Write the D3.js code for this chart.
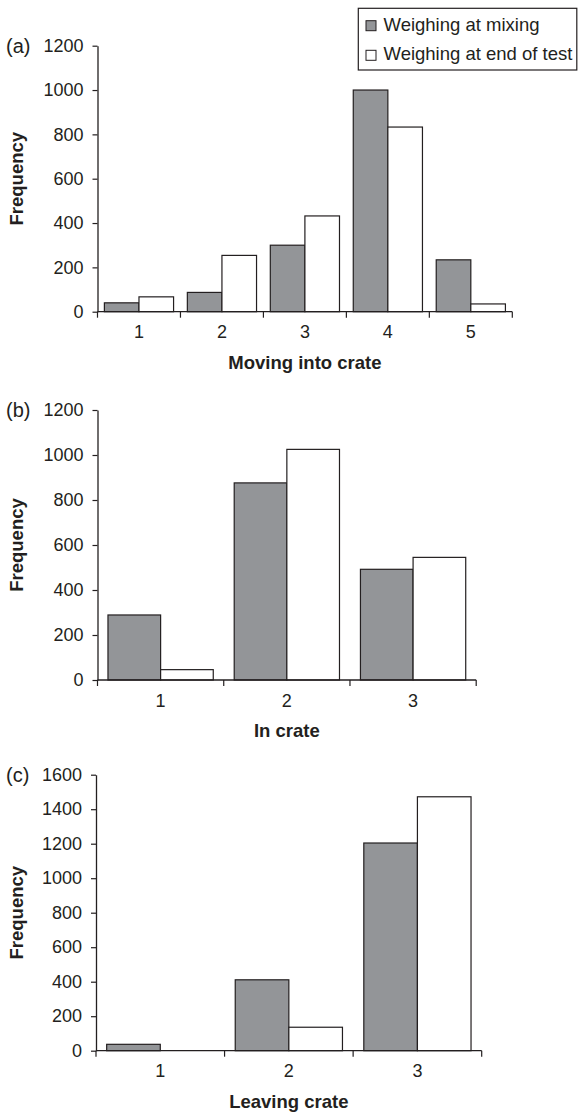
<!DOCTYPE html>
<html>
<head>
<meta charset="utf-8">
<script src="https://cdn.jsdelivr.net/npm/d3@7"></script>
<style>
  body { margin: 0; background: #fff; }
  svg text { font-family: "Liberation Sans", Arial, sans-serif; fill: #231f20; }
</style>
</head>
<body>
<div id="main"></div>
<script>
// series names
const seriesNames = ["Weighing at mixing", "Weighing at end of test"];
const seriesColors = ["#939598", "#ffffff"];

// panel (a) Moving into crate
const catsA = ["1", "2", "3", "4", "5"];
const mixingA = [40, 87, 300, 1000, 234];
const endA = [67, 254, 432, 833, 35];
const ticksA = [0, 200, 400, 600, 800, 1000, 1200];

// panel (b) In crate
const catsB = ["1", "2", "3"];
const mixingB = [289, 876, 492];
const endB = [46, 1025, 545];
const ticksB = [0, 200, 400, 600, 800, 1000, 1200];

// panel (c) Leaving crate
const catsC = ["1", "2", "3"];
const mixingC = [37, 411, 1204];
const endC = [0, 136, 1472];
const ticksC = [0, 200, 400, 600, 800, 1000, 1200, 1400, 1600];

const width = 578, height = 1112;

const svg = d3.select("#main")
  .append("svg")
    .attr("width", width)
    .attr("height", height);

function drawPanel(cfg) {
  const g = svg.append("g");

  const x0 = d3.scaleBand()
      .domain(cfg.cats)
      .range([cfg.left, cfg.right])
      .padding(0);
  const pad = x0.bandwidth() * 0.083;
  const x1 = d3.scaleBand()
      .domain([0, 1])
      .range([pad, x0.bandwidth() - pad])
      .padding(0);
  const y = d3.scaleLinear()
      .domain([0, d3.max(cfg.ticks)])
      .range([cfg.bottom, cfg.top]);

  const rows = cfg.cats.map((c, i) => ({cat: c, vals: [cfg.mixing[i], cfg.end[i]]}));

  // bars
  const grp = g.selectAll("g.cat")
    .data(rows)
    .enter().append("g")
      .attr("class", "cat")
      .attr("transform", d => `translate(${x0(d.cat)},0)`);
  grp.selectAll("rect")
    .data(d => d.vals.map((v, k) => ({k: k, v: v})))
    .enter().append("rect")
      .filter(d => d.v > 0)
      .attr("x", d => x1(d.k))
      .attr("y", d => y(d.v))
      .attr("width", x1.bandwidth())
      .attr("height", d => y(0) - y(d.v))
      .attr("fill", d => seriesColors[d.k])
      .attr("stroke", "#231f20")
      .attr("stroke-width", 1.2);

  // y axis
  const yAxis = g.append("g")
    .attr("transform", `translate(${cfg.left},0)`)
    .call(d3.axisLeft(y).tickValues(cfg.ticks).tickFormat(d3.format("d"))
      .tickSize(5).tickPadding(9).tickSizeOuter(0));
  // x axis: ticks at band edges
  const edges = cfg.cats.map(c => x0(c)).concat([cfg.right]);
  const xAxisG = g.append("g")
    .attr("transform", `translate(0,${cfg.bottom})`);
  xAxisG.append("line")
    .attr("x1", cfg.left).attr("x2", cfg.right)
    .attr("stroke", "#231f20").attr("stroke-width", 1.3);
  xAxisG.selectAll("line.tk")
    .data(edges)
    .enter().append("line")
      .attr("class", "tk")
      .attr("x1", d => d).attr("x2", d => d)
      .attr("y1", 0).attr("y2", 6)
      .attr("stroke", "#231f20").attr("stroke-width", 1.2);
  xAxisG.selectAll("text")
    .data(cfg.cats)
    .enter().append("text")
      .attr("x", d => x0(d) + x0.bandwidth() / 2)
      .attr("y", 26.5)
      .attr("text-anchor", "middle")
      .style("font-size", "18px")
      .text(d => d);

  yAxis.select(".domain").attr("stroke", "#231f20").attr("stroke-width", 1.3);
  yAxis.selectAll(".tick line").attr("stroke", "#231f20").attr("stroke-width", 1.2);
  yAxis.selectAll(".tick text")
    .style("font-size", "18px")
    .attr("fill", "#231f20");

  // x title
  g.append("text")
    .attr("x", (cfg.left + cfg.right) / 2)
    .attr("y", cfg.bottom + 57)
    .attr("text-anchor", "middle")
    .style("font-size", "18.5px")
    .style("font-weight", "bold")
    .text(cfg.title);

  // y title
  g.append("text")
    .attr("transform", `translate(23,${(cfg.top + cfg.bottom) / 2}) rotate(-90)`)
    .attr("text-anchor", "middle")
    .style("font-size", "18.5px")
    .style("font-weight", "bold")
    .text("Frequency");

  // panel letter
  g.append("text")
    .attr("x", 6)
    .attr("y", cfg.top + 7)
    .style("font-size", "20px")
    .text(cfg.letter);
}

drawPanel({cats: catsA, mixing: mixingA, end: endA, ticks: ticksA,
  left: 97.5, right: 512.3, top: 45.7, bottom: 311.7, title: "Moving into crate", letter: "(a)"});
drawPanel({cats: catsB, mixing: mixingB, end: endB, ticks: ticksB,
  left: 97.5, right: 476.2, top: 410, bottom: 680, title: "In crate", letter: "(b)"});
drawPanel({cats: catsC, mixing: mixingC, end: endC, ticks: ticksC,
  left: 96, right: 481.7, top: 774.7, bottom: 1050.7, title: "Leaving crate", letter: "(c)"});

// legend
const legend = svg.append("g");
legend.append("rect")
  .attr("x", 358.3).attr("y", 8.3)
  .attr("width", 218.5).attr("height", 61.7)
  .attr("fill", "#fff")
  .attr("stroke", "#231f20")
  .attr("stroke-width", 1.2);
const li = legend.selectAll("g.li")
  .data(seriesNames)
  .enter().append("g")
    .attr("class", "li")
    .attr("transform", (d, i) => `translate(366,${20.7 + i * 29.6})`);
li.append("rect")
  .attr("width", 10).attr("height", 10)
  .attr("fill", (d, i) => seriesColors[i])
  .attr("stroke", "#231f20")
  .attr("stroke-width", 1);
li.append("text")
  .attr("x", 17.5)
  .attr("y", 10)
  .style("font-size", "18.5px")
  .text(d => d);
</script>
</body>
</html>
